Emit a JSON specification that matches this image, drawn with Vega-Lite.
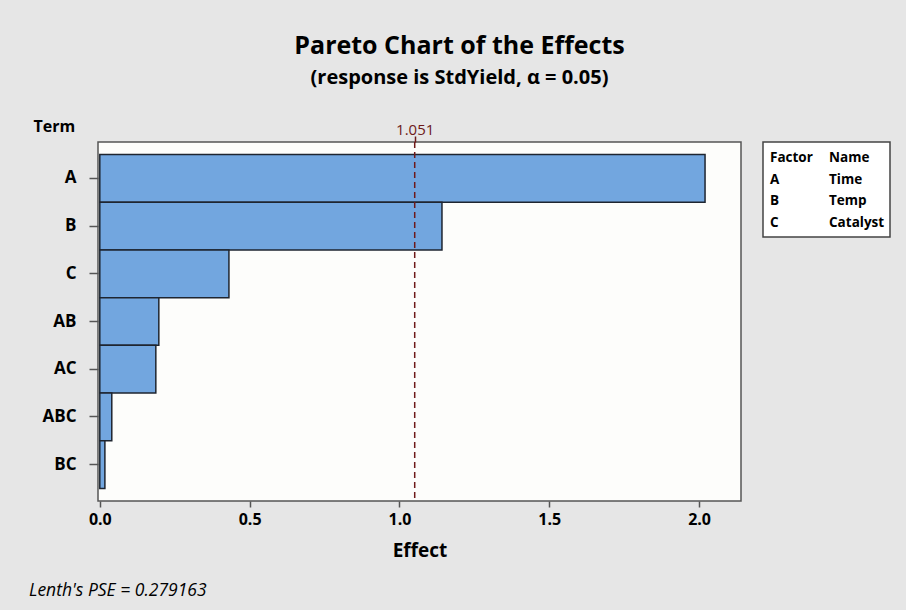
{
  "$schema": "https://vega.github.io/schema/vega-lite/v6.json",
  "autosize": {"type": "pad"},
  "padding": {"left": 28, "top": 34, "right": 16, "bottom": 10},
  "background": "#e6e6e6",
  "config": {
    "font": "Open Sans",
    "view": {"stroke": "#555555", "strokeWidth": 1.5},
    "title": {"color": "#000000"}
  },
  "title": {
    "text": "Pareto Chart of the Effects",
    "subtitle": "(response is StdYield, α = 0.05)",
    "fontSize": 25,
    "fontWeight": "bold",
    "subtitleFontSize": 20,
    "subtitleFontWeight": "bold",
    "subtitleColor": "#000000",
    "subtitlePadding": 9,
    "anchor": "middle",
    "offset": 29
  },
  "spacing": 20,
  "hconcat": [
    {
      "width": 643,
      "height": 359,
      "view": {"fill": "#fdfdfb", "stroke": "#555555", "strokeWidth": 1.5},
      "title": {
        "text": "Lenth's PSE = 0.279163",
        "orient": "bottom",
        "anchor": "start",
        "frame": "group",
        "fontStyle": "italic",
        "fontWeight": "normal",
        "fontSize": 17.5,
        "dx": -69,
        "offset": 22
      },
      "resolve": {"axis": {"x": "independent"}},
      "layer": [
        {
          "data": {"values": [
            {"Term": "A", "Effect": 2.02},
            {"Term": "B", "Effect": 1.142},
            {"Term": "C", "Effect": 0.431},
            {"Term": "AB", "Effect": 0.197},
            {"Term": "AC", "Effect": 0.187},
            {"Term": "ABC", "Effect": 0.040},
            {"Term": "BC", "Effect": 0.017}
          ]},
          "mark": {"type": "bar", "fill": "#72a6df", "stroke": "#1e2530", "strokeWidth": 1.5},
          "encoding": {
            "y": {
              "field": "Term", "type": "nominal", "sort": null,
              "scale": {"paddingInner": 0, "paddingOuter": 0.26},
              "axis": {
                "title": "Term", "titleAngle": 0, "titleAlign": "left", "titleBaseline": "alphabetic",
                "titleX": -65, "titleY": -11, "titleFontSize": 16, "titleFontWeight": "bold", "titleColor": "#000000",
                "labelFontSize": 17, "labelFontWeight": "bold", "labelColor": "#000000", "labelPadding": 13,
                "tickSize": 9, "tickColor": "#555555", "tickWidth": 1.5, "domain": false
              }
            },
            "x": {
              "field": "Effect", "type": "quantitative",
              "scale": {"domain": [-0.006, 2.14], "nice": false, "zero": false},
              "axis": {
                "title": "Effect", "titleFontSize": 19, "titleFontWeight": "bold", "titleColor": "#000000", "titlePadding": 14,
                "values": [0, 0.5, 1, 1.5, 2], "format": ".1f",
                "labelFontSize": 16, "labelFontWeight": "bold", "labelColor": "#000000", "labelPadding": 4,
                "tickSize": 6, "tickColor": "#555555", "tickWidth": 1.5, "domain": false, "grid": false
              }
            }
          }
        },
        {
          "data": {"values": [{"Critical": 1.051}]},
          "mark": {"type": "rule", "color": "#6e1a1a", "strokeWidth": 1.5, "strokeDash": [6, 4]},
          "encoding": {
            "x": {
              "field": "Critical", "type": "quantitative",
              "axis": {
                "orient": "top", "title": null, "values": [1.051], "format": ".3f",
                "labelFontSize": 15, "labelColor": "#6e1a1a", "labelPadding": -1,
                "tickSize": 6, "tickColor": "#6e1a1a", "tickWidth": 1.5, "domain": false, "grid": false
              }
            }
          }
        }
      ]
    },
    {
      "width": 127,
      "height": 95,
      "view": {"fill": "#ffffff", "stroke": "#444444", "strokeWidth": 1.5},
      "data": {"values": [
        {"order": 0, "Factor": "Factor", "Name": "Name"},
        {"order": 1, "Factor": "A", "Name": "Time"},
        {"order": 2, "Factor": "B", "Name": "Temp"},
        {"order": 3, "Factor": "C", "Name": "Catalyst"}
      ]},
      "transform": [{"fold": ["Factor", "Name"], "as": ["column", "text"]}],
      "mark": {"type": "text", "align": "left", "baseline": "middle", "fontSize": 13.5, "fontWeight": "bold", "color": "#000000"},
      "encoding": {
        "x": {"field": "column", "type": "nominal", "axis": null, "scale": {"type": "band", "paddingInner": 0, "paddingOuter": 0.076, "align": 0.78}, "bandPosition": 0},
        "y": {"field": "order", "type": "ordinal", "axis": null, "scale": {"type": "band", "paddingInner": 0, "paddingOuter": 0.189, "align": 0.63}},
        "text": {"field": "text"}
      }
    }
  ]
}
